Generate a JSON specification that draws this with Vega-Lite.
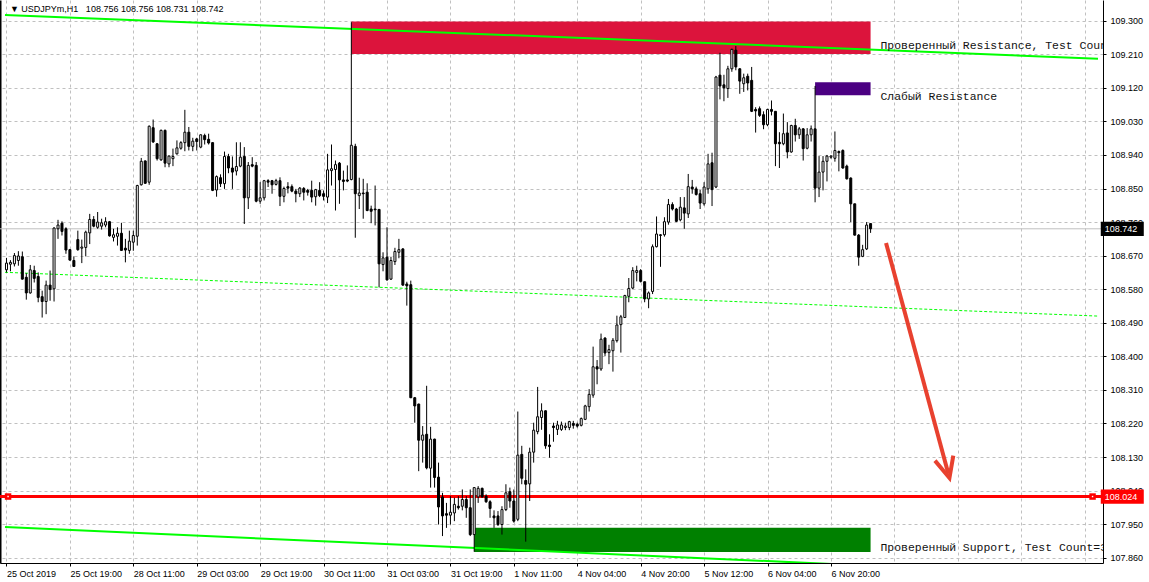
{
"$schema": "https://vega.github.io/schema/vega-lite/v6.json",
"width": 1103, "height": 563,
"autosize": {"type": "none"},
"padding": {"left": 0, "top": 0, "right": 46, "bottom": 19},
"background": "white",
"config": {"view": {"stroke": null}, "axis": {"labelFont": "Liberation Sans", "labelFontSize": 9, "labelColor": "black"}},
"datasets": {
"candles": [
{"i":0,"o":108.632,"h":108.664,"l":108.625,"c":108.650},
{"i":1,"o":108.647,"h":108.658,"l":108.628,"c":108.652},
{"i":2,"o":108.648,"h":108.677,"l":108.641,"c":108.670},
{"i":3,"o":108.657,"h":108.682,"l":108.643,"c":108.669},
{"i":4,"o":108.667,"h":108.681,"l":108.606,"c":108.607},
{"i":5,"o":108.612,"h":108.623,"l":108.552,"c":108.570},
{"i":6,"o":108.570,"h":108.645,"l":108.568,"c":108.632},
{"i":7,"o":108.630,"h":108.643,"l":108.598,"c":108.609},
{"i":8,"o":108.614,"h":108.625,"l":108.545,"c":108.558},
{"i":9,"o":108.560,"h":108.576,"l":108.504,"c":108.547},
{"i":10,"o":108.547,"h":108.603,"l":108.513,"c":108.591},
{"i":11,"o":108.591,"h":108.630,"l":108.549,"c":108.579},
{"i":12,"o":108.581,"h":108.746,"l":108.547,"c":108.744},
{"i":13,"o":108.742,"h":108.766,"l":108.715,"c":108.752},
{"i":14,"o":108.757,"h":108.762,"l":108.724,"c":108.735},
{"i":15,"o":108.742,"h":108.746,"l":108.675,"c":108.685},
{"i":16,"o":108.686,"h":108.688,"l":108.657,"c":108.658},
{"i":17,"o":108.657,"h":108.668,"l":108.641,"c":108.641},
{"i":18,"o":108.713,"h":108.737,"l":108.683,"c":108.686},
{"i":19,"o":108.690,"h":108.713,"l":108.650,"c":108.693},
{"i":20,"o":108.692,"h":108.737,"l":108.668,"c":108.733},
{"i":21,"o":108.731,"h":108.782,"l":108.701,"c":108.767},
{"i":22,"o":108.767,"h":108.776,"l":108.746,"c":108.749},
{"i":23,"o":108.746,"h":108.787,"l":108.742,"c":108.760},
{"i":24,"o":108.749,"h":108.769,"l":108.740,"c":108.758},
{"i":25,"o":108.752,"h":108.773,"l":108.746,"c":108.761},
{"i":26,"o":108.761,"h":108.763,"l":108.721,"c":108.723},
{"i":27,"o":108.719,"h":108.742,"l":108.708,"c":108.726},
{"i":28,"o":108.722,"h":108.746,"l":108.697,"c":108.730},
{"i":29,"o":108.730,"h":108.758,"l":108.683,"c":108.684},
{"i":30,"o":108.690,"h":108.715,"l":108.652,"c":108.685},
{"i":31,"o":108.684,"h":108.737,"l":108.675,"c":108.709},
{"i":32,"o":108.706,"h":108.737,"l":108.683,"c":108.724},
{"i":33,"o":108.722,"h":108.860,"l":108.697,"c":108.858},
{"i":34,"o":108.860,"h":108.932,"l":108.858,"c":108.923},
{"i":35,"o":108.924,"h":108.925,"l":108.863,"c":108.864},
{"i":36,"o":108.867,"h":109.019,"l":108.860,"c":109.017},
{"i":37,"o":109.013,"h":109.035,"l":108.972,"c":108.975},
{"i":38,"o":108.970,"h":108.972,"l":108.925,"c":108.930},
{"i":39,"o":108.927,"h":109.008,"l":108.924,"c":109.006},
{"i":40,"o":109.006,"h":109.008,"l":108.907,"c":108.918},
{"i":41,"o":108.916,"h":108.939,"l":108.907,"c":108.937},
{"i":42,"o":108.930,"h":108.957,"l":108.910,"c":108.936},
{"i":43,"o":108.943,"h":108.979,"l":108.941,"c":108.959},
{"i":44,"o":108.958,"h":108.977,"l":108.954,"c":108.973},
{"i":45,"o":108.973,"h":109.061,"l":108.950,"c":109.001},
{"i":46,"o":109.001,"h":109.015,"l":108.952,"c":108.963},
{"i":47,"o":108.963,"h":108.986,"l":108.950,"c":108.977},
{"i":48,"o":108.983,"h":108.986,"l":108.952,"c":108.976},
{"i":49,"o":108.961,"h":108.995,"l":108.958,"c":108.994},
{"i":50,"o":108.992,"h":108.997,"l":108.968,"c":108.981},
{"i":51,"o":108.982,"h":108.997,"l":108.968,"c":108.972},
{"i":52,"o":108.973,"h":108.974,"l":108.843,"c":108.845},
{"i":53,"o":108.846,"h":108.885,"l":108.828,"c":108.882},
{"i":54,"o":108.879,"h":108.888,"l":108.854,"c":108.863},
{"i":55,"o":108.863,"h":108.949,"l":108.849,"c":108.936},
{"i":56,"o":108.936,"h":108.943,"l":108.891,"c":108.905},
{"i":57,"o":108.905,"h":108.936,"l":108.849,"c":108.894},
{"i":58,"o":108.897,"h":108.974,"l":108.885,"c":108.909},
{"i":59,"o":108.910,"h":108.974,"l":108.907,"c":108.934},
{"i":60,"o":108.936,"h":108.961,"l":108.755,"c":108.825},
{"i":61,"o":108.825,"h":108.921,"l":108.795,"c":108.912},
{"i":62,"o":108.914,"h":108.934,"l":108.907,"c":108.910},
{"i":63,"o":108.912,"h":108.921,"l":108.813,"c":108.816},
{"i":64,"o":108.816,"h":108.867,"l":108.809,"c":108.825},
{"i":65,"o":108.825,"h":108.873,"l":108.818,"c":108.871},
{"i":66,"o":108.871,"h":108.875,"l":108.854,"c":108.867},
{"i":67,"o":108.871,"h":108.873,"l":108.836,"c":108.860},
{"i":68,"o":108.861,"h":108.876,"l":108.858,"c":108.871},
{"i":69,"o":108.871,"h":108.880,"l":108.803,"c":108.829},
{"i":70,"o":108.829,"h":108.855,"l":108.813,"c":108.850},
{"i":71,"o":108.855,"h":108.867,"l":108.837,"c":108.851},
{"i":72,"o":108.855,"h":108.861,"l":108.840,"c":108.843},
{"i":73,"o":108.843,"h":108.849,"l":108.813,"c":108.836},
{"i":74,"o":108.836,"h":108.854,"l":108.827,"c":108.851},
{"i":75,"o":108.850,"h":108.854,"l":108.818,"c":108.840},
{"i":76,"o":108.845,"h":108.849,"l":108.831,"c":108.840},
{"i":77,"o":108.845,"h":108.871,"l":108.813,"c":108.827},
{"i":78,"o":108.828,"h":108.849,"l":108.804,"c":108.847},
{"i":79,"o":108.845,"h":108.867,"l":108.827,"c":108.831},
{"i":80,"o":108.836,"h":108.845,"l":108.818,"c":108.829},
{"i":81,"o":108.827,"h":108.943,"l":108.811,"c":108.900},
{"i":82,"o":108.898,"h":108.968,"l":108.858,"c":108.903},
{"i":83,"o":108.901,"h":108.925,"l":108.791,"c":108.914},
{"i":84,"o":108.918,"h":108.921,"l":108.809,"c":108.873},
{"i":85,"o":108.873,"h":108.898,"l":108.845,"c":108.869},
{"i":86,"o":108.873,"h":108.912,"l":108.867,"c":108.870},
{"i":87,"o":108.874,"h":109.296,"l":108.872,"c":108.966},
{"i":88,"o":108.963,"h":108.970,"l":108.718,"c":108.836},
{"i":89,"o":108.831,"h":108.879,"l":108.795,"c":108.838},
{"i":90,"o":108.838,"h":108.876,"l":108.769,"c":108.836},
{"i":91,"o":108.840,"h":108.864,"l":108.789,"c":108.791},
{"i":92,"o":108.795,"h":108.804,"l":108.757,"c":108.789},
{"i":93,"o":108.795,"h":108.858,"l":108.751,"c":108.793},
{"i":94,"o":108.794,"h":108.795,"l":108.585,"c":108.648},
{"i":95,"o":108.646,"h":108.679,"l":108.628,"c":108.664},
{"i":96,"o":108.666,"h":108.746,"l":108.603,"c":108.605},
{"i":97,"o":108.607,"h":108.667,"l":108.605,"c":108.657},
{"i":98,"o":108.654,"h":108.691,"l":108.645,"c":108.681},
{"i":99,"o":108.679,"h":108.715,"l":108.663,"c":108.686},
{"i":100,"o":108.688,"h":108.690,"l":108.589,"c":108.591},
{"i":101,"o":108.594,"h":108.600,"l":108.536,"c":108.589},
{"i":102,"o":108.592,"h":108.603,"l":108.288,"c":108.289},
{"i":103,"o":108.289,"h":108.291,"l":108.222,"c":108.267},
{"i":104,"o":108.272,"h":108.273,"l":108.092,"c":108.175},
{"i":105,"o":108.175,"h":108.213,"l":108.115,"c":108.189},
{"i":106,"o":108.191,"h":108.321,"l":108.097,"c":108.101},
{"i":107,"o":108.100,"h":108.211,"l":108.048,"c":108.178},
{"i":108,"o":108.178,"h":108.179,"l":108.048,"c":108.075},
{"i":109,"o":108.076,"h":108.115,"l":107.949,"c":107.996},
{"i":110,"o":108.023,"h":108.034,"l":107.918,"c":107.972},
{"i":111,"o":107.978,"h":108.007,"l":107.940,"c":107.974},
{"i":112,"o":107.974,"h":108.025,"l":107.949,"c":107.982},
{"i":113,"o":107.980,"h":108.021,"l":107.958,"c":108.003},
{"i":114,"o":107.998,"h":108.025,"l":107.989,"c":107.994},
{"i":115,"o":107.998,"h":108.043,"l":107.987,"c":108.016},
{"i":116,"o":108.016,"h":108.025,"l":107.967,"c":107.994},
{"i":117,"o":107.994,"h":108.043,"l":107.918,"c":107.922},
{"i":118,"o":107.922,"h":108.049,"l":107.876,"c":108.048},
{"i":119,"o":108.023,"h":108.052,"l":108.007,"c":108.046},
{"i":120,"o":108.046,"h":108.048,"l":108.021,"c":108.023},
{"i":121,"o":108.025,"h":108.030,"l":108.007,"c":108.010},
{"i":122,"o":108.010,"h":108.014,"l":107.967,"c":107.992},
{"i":123,"o":107.972,"h":107.987,"l":107.940,"c":107.967},
{"i":124,"o":107.972,"h":107.985,"l":107.945,"c":107.949},
{"i":125,"o":107.949,"h":107.998,"l":107.922,"c":107.989},
{"i":126,"o":107.989,"h":108.057,"l":107.985,"c":108.034},
{"i":127,"o":108.037,"h":108.048,"l":107.994,"c":108.012},
{"i":128,"o":108.012,"h":108.043,"l":107.954,"c":107.958},
{"i":129,"o":107.963,"h":108.252,"l":107.958,"c":108.135},
{"i":130,"o":108.137,"h":108.160,"l":108.057,"c":108.073},
{"i":131,"o":108.067,"h":108.097,"l":107.903,"c":108.057},
{"i":132,"o":108.058,"h":108.155,"l":108.012,"c":108.143},
{"i":133,"o":108.143,"h":108.222,"l":108.115,"c":108.202},
{"i":134,"o":108.198,"h":108.318,"l":108.191,"c":108.238},
{"i":135,"o":108.236,"h":108.274,"l":108.203,"c":108.254},
{"i":136,"o":108.254,"h":108.255,"l":108.152,"c":108.160},
{"i":137,"o":108.162,"h":108.191,"l":108.128,"c":108.158},
{"i":138,"o":108.213,"h":108.222,"l":108.171,"c":108.209},
{"i":139,"o":108.204,"h":108.227,"l":108.189,"c":108.216},
{"i":140,"o":108.204,"h":108.225,"l":108.200,"c":108.216},
{"i":141,"o":108.209,"h":108.222,"l":108.202,"c":108.213},
{"i":142,"o":108.209,"h":108.227,"l":108.202,"c":108.225},
{"i":143,"o":108.220,"h":108.227,"l":108.206,"c":108.215},
{"i":144,"o":108.218,"h":108.222,"l":108.209,"c":108.213},
{"i":145,"o":108.215,"h":108.236,"l":108.212,"c":108.233},
{"i":146,"o":108.231,"h":108.270,"l":108.229,"c":108.267},
{"i":147,"o":108.265,"h":108.312,"l":108.252,"c":108.298},
{"i":148,"o":108.296,"h":108.426,"l":108.289,"c":108.372},
{"i":149,"o":108.372,"h":108.390,"l":108.325,"c":108.366},
{"i":150,"o":108.366,"h":108.461,"l":108.361,"c":108.446},
{"i":151,"o":108.449,"h":108.451,"l":108.401,"c":108.409},
{"i":152,"o":108.410,"h":108.431,"l":108.379,"c":108.418},
{"i":153,"o":108.415,"h":108.449,"l":108.359,"c":108.443},
{"i":154,"o":108.442,"h":108.509,"l":108.437,"c":108.484},
{"i":155,"o":108.485,"h":108.511,"l":108.410,"c":108.506},
{"i":156,"o":108.504,"h":108.565,"l":108.503,"c":108.563},
{"i":157,"o":108.561,"h":108.610,"l":108.545,"c":108.582},
{"i":158,"o":108.583,"h":108.639,"l":108.580,"c":108.630},
{"i":159,"o":108.625,"h":108.643,"l":108.601,"c":108.630},
{"i":160,"o":108.630,"h":108.634,"l":108.598,"c":108.601},
{"i":161,"o":108.600,"h":108.600,"l":108.545,"c":108.554},
{"i":162,"o":108.554,"h":108.574,"l":108.529,"c":108.570},
{"i":163,"o":108.574,"h":108.700,"l":108.567,"c":108.694},
{"i":164,"o":108.694,"h":108.775,"l":108.692,"c":108.728},
{"i":165,"o":108.724,"h":108.728,"l":108.640,"c":108.726},
{"i":166,"o":108.726,"h":108.773,"l":108.721,"c":108.761},
{"i":167,"o":108.760,"h":108.822,"l":108.753,"c":108.807},
{"i":168,"o":108.807,"h":108.813,"l":108.791,"c":108.795},
{"i":169,"o":108.795,"h":108.798,"l":108.760,"c":108.762},
{"i":170,"o":108.766,"h":108.827,"l":108.762,"c":108.800},
{"i":171,"o":108.798,"h":108.827,"l":108.742,"c":108.784},
{"i":172,"o":108.782,"h":108.889,"l":108.771,"c":108.855},
{"i":173,"o":108.854,"h":108.873,"l":108.836,"c":108.849},
{"i":174,"o":108.849,"h":108.855,"l":108.831,"c":108.834},
{"i":175,"o":108.836,"h":108.846,"l":108.795,"c":108.811},
{"i":176,"o":108.809,"h":108.867,"l":108.804,"c":108.854},
{"i":177,"o":108.849,"h":108.943,"l":108.836,"c":108.916},
{"i":178,"o":108.919,"h":108.946,"l":108.803,"c":108.847},
{"i":179,"o":108.854,"h":109.152,"l":108.851,"c":109.149},
{"i":180,"o":109.154,"h":109.214,"l":109.089,"c":109.125},
{"i":181,"o":109.128,"h":109.155,"l":109.084,"c":109.120},
{"i":182,"o":109.118,"h":109.179,"l":109.093,"c":109.171},
{"i":183,"o":109.171,"h":109.225,"l":109.163,"c":109.223},
{"i":184,"o":109.221,"h":109.232,"l":109.167,"c":109.176},
{"i":185,"o":109.171,"h":109.173,"l":109.104,"c":109.138},
{"i":186,"o":109.131,"h":109.158,"l":109.109,"c":109.147},
{"i":187,"o":109.151,"h":109.158,"l":109.113,"c":109.133},
{"i":188,"o":109.140,"h":109.176,"l":109.055,"c":109.057},
{"i":189,"o":109.062,"h":109.068,"l":109.000,"c":109.058},
{"i":190,"o":109.064,"h":109.070,"l":109.042,"c":109.046},
{"i":191,"o":109.048,"h":109.057,"l":109.009,"c":109.021},
{"i":192,"o":109.021,"h":109.064,"l":109.017,"c":109.062},
{"i":193,"o":109.062,"h":109.086,"l":109.046,"c":109.057},
{"i":194,"o":109.057,"h":109.057,"l":108.910,"c":108.970},
{"i":195,"o":108.974,"h":109.001,"l":108.905,"c":108.970},
{"i":196,"o":108.970,"h":109.051,"l":108.966,"c":108.997},
{"i":197,"o":108.999,"h":109.028,"l":108.931,"c":108.948},
{"i":198,"o":108.948,"h":109.021,"l":108.946,"c":109.019},
{"i":199,"o":109.019,"h":109.037,"l":108.976,"c":108.994},
{"i":200,"o":108.994,"h":109.015,"l":108.983,"c":109.010},
{"i":201,"o":109.010,"h":109.012,"l":108.925,"c":108.957},
{"i":202,"o":108.958,"h":109.012,"l":108.955,"c":108.994},
{"i":203,"o":108.994,"h":109.019,"l":108.976,"c":109.010},
{"i":204,"o":109.010,"h":109.125,"l":108.813,"c":108.851},
{"i":205,"o":108.851,"h":108.937,"l":108.827,"c":108.894},
{"i":206,"o":108.894,"h":108.937,"l":108.845,"c":108.923},
{"i":207,"o":108.923,"h":108.940,"l":108.869,"c":108.937},
{"i":208,"o":108.934,"h":108.939,"l":108.930,"c":108.937},
{"i":209,"o":108.931,"h":109.003,"l":108.922,"c":108.952},
{"i":210,"o":108.949,"h":108.952,"l":108.896,"c":108.946},
{"i":211,"o":108.952,"h":108.955,"l":108.903,"c":108.905},
{"i":212,"o":108.910,"h":108.914,"l":108.874,"c":108.876},
{"i":213,"o":108.878,"h":108.880,"l":108.760,"c":108.809},
{"i":214,"o":108.809,"h":108.809,"l":108.724,"c":108.725},
{"i":215,"o":108.725,"h":108.728,"l":108.643,"c":108.666},
{"i":216,"o":108.668,"h":108.699,"l":108.666,"c":108.686},
{"i":217,"o":108.688,"h":108.760,"l":108.685,"c":108.752},
{"i":218,"o":108.756,"h":108.756,"l":108.731,"c":108.742}
],
"zones": [
{"i0":87,"i1":218,"p0":109.211,"p1":109.298,"color":"#DC143C"},
{"i0":204,"i1":218,"p0":109.100,"p1":109.135,"color":"#4B0082"},
{"i0":118,"i1":218,"p0":107.875,"p1":107.940,"color":"#008000"}
],
"trend": [
{"line":"up","i":-0.375,"p":109.3153},{"line":"up","i":275.375,"p":109.1982},
{"line":"low","i":-0.375,"p":107.9423},{"line":"low","i":275.375,"p":107.8112}
],
"mid": [{"i":-0.375,"p":108.6253},{"i":275.375,"p":108.5079}],
"zonelabels": [
{"i":220.5,"p":109.2322,"t":"Проверенный Resistance, Test Count=2"},
{"i":220.5,"p":109.0954,"t":"Слабый Resistance"},
{"i":220.5,"p":107.886,"t":"Проверенный Support, Test Count=3"}
],
"header": [{"i":0.875,"p":109.3314,"t":"▼ USDJPYm,H1\u00a0\u00a0 108.756 108.756 108.731 108.742"}],
"arrow": [{"i":221.9,"p":108.704,"i2":237.6,"p2":108.086}],
"arrowtip": [{"i":237.9,"p":108.0737}],
"bid": [{"p":108.742,"t":"108.742"}],
"level": [{"p":108.024,"t":"108.024"}],
"handles": [{"i":0.4,"p":108.024},{"i":274.0,"p":108.024}]
},
"layer": [
{"data":{"name":"zones"},"mark":{"type":"rect"},
"encoding":{
"x":{"field":"i0","type":"quantitative","scale":{"domain":[-0.375,275.375],"nice":false,"zero":false},
"axis":{"values":[0,8,16,24,32,40,48,56,64,72,80,88,96,104,112,120,128,136,144,152,160,168,176,184,192,200,208,216,224,232,240,248,256,264,272],
"title":null,"grid":true,"gridColor":"#C0C0C0","gridDash":[3,3],"gridWidth":1,"domainColor":"black","domainWidth":1,
"tickColor":{"condition":{"test":"datum.value % 16 == 0 && datum.value <= 208","value":"black"},"value":"transparent"},
"tickSize":3,"labelAlign":"left","labelBaseline":"top","labelPadding":3,"labelOverlap":false,"labelBound":false,"labelFlush":false,
"labelExpr":"datum.value % 16 == 0 && datum.value <= 208 ? ['25 Oct 2019','25 Oct 19:00','28 Oct 11:00','29 Oct 03:00','29 Oct 19:00','30 Oct 11:00','31 Oct 03:00','31 Oct 19:00','1 Nov 11:00','4 Nov 04:00','4 Nov 20:00','5 Nov 12:00','6 Nov 04:00','6 Nov 20:00'][datum.value / 16] : ''"}},
"x2":{"field":"i1"},
"y":{"field":"p0","type":"quantitative","scale":{"domain":[107.8458,109.3555],"nice":false,"zero":false},
"axis":{"orient":"left","labels":false,"ticks":false,"grid":false,"domainColor":"black","domainWidth":2,"title":null}},
"y2":{"field":"p1"},
"fill":{"field":"color","type":"nominal","scale":null,"legend":null}
}},
{"data":{"name":"mid"},"mark":{"type":"line","stroke":"#00FF00","strokeWidth":1,"strokeDash":[3,2],"clip":true},
"encoding":{"x":{"field":"i","type":"quantitative"},"y":{"field":"p","type":"quantitative","axis":null}}},
{"data":{"name":"bid"},"mark":{"type":"rule","stroke":"#C0C0C0","strokeWidth":1},
"encoding":{"y":{"field":"p","type":"quantitative","axis":null}}},
{"data":{"name":"trend"},"mark":{"type":"line","stroke":"#00FF00","strokeWidth":2,"clip":true},
"encoding":{"x":{"field":"i","type":"quantitative"},"y":{"field":"p","type":"quantitative","axis":null},"detail":{"field":"line"}}},
{"data":{"name":"level"},"mark":{"type":"rule","stroke":"#FF0000","strokeWidth":3},
"encoding":{"y":{"field":"p","type":"quantitative","axis":null}}},
{"data":{"name":"handles"},"mark":{"type":"point","shape":"square","size":42,"filled":true,"fill":"#FF0000","strokeWidth":0,"opacity":1},
"encoding":{"x":{"field":"i","type":"quantitative"},"y":{"field":"p","type":"quantitative","axis":null}}},
{"data":{"name":"handles"},"mark":{"type":"point","shape":"square","size":2,"filled":true,"fill":"white","strokeWidth":0,"opacity":1},
"encoding":{"x":{"field":"i","type":"quantitative"},"y":{"field":"p","type":"quantitative","axis":null}}},
{"data":{"name":"candles"},"mark":{"type":"rule","stroke":"black","strokeWidth":1},
"encoding":{"x":{"field":"i","type":"quantitative"},
"y":{"field":"l","type":"quantitative",
"axis":{"orient":"right","values":[107.86,107.95,108.04,108.13,108.22,108.31,108.40,108.49,108.58,108.67,108.76,108.85,108.94,109.03,109.12,109.21,109.30],
"format":".3f","title":null,"grid":true,"gridColor":"#C0C0C0","gridDash":[3,3],"gridWidth":1,"domainColor":"black","domainWidth":1,"tickColor":"black","tickSize":3,"labelPadding":4,"labelBaseline":"middle","labelOverlap":false,"labelBound":false,"labelFlush":false}},
"y2":{"field":"h"}}},
{"data":{"name":"candles"},"mark":{"type":"bar","size":2,"stroke":"black","strokeWidth":1},
"encoding":{"x":{"field":"i","type":"quantitative"},
"y":{"field":"o","type":"quantitative","axis":null},"y2":{"field":"c"},
"fill":{"condition":{"test":"datum.c > datum.o","value":"white"},"value":"black"}}},
{"data":{"name":"zonelabels"},"mark":{"type":"text","font":"Liberation Mono","fontSize":11.45,"align":"left","baseline":"middle","fill":"#111111","clip":true},
"encoding":{"x":{"field":"i","type":"quantitative"},"y":{"field":"p","type":"quantitative","axis":null},"text":{"field":"t"}}},
{"data":{"name":"header"},"mark":{"type":"text","font":"Liberation Sans","fontSize":9,"align":"left","baseline":"middle","fill":"black"},
"encoding":{"x":{"field":"i","type":"quantitative"},"y":{"field":"p","type":"quantitative","axis":null},"text":{"field":"t"}}},
{"data":{"name":"arrow"},"mark":{"type":"rule","stroke":"#E8412F","strokeWidth":4},
"encoding":{"x":{"field":"i","type":"quantitative"},"y":{"field":"p","type":"quantitative","axis":null},"x2":{"field":"i2"},"y2":{"field":"p2"}}},
{"data":{"name":"arrowtip"},"mark":{"type":"point","shape":"M -0.6 -1.3 L 0 0 L 0.6 -1.3","size":1000,"filled":false,"stroke":"#E8412F","strokeWidth":4,"angle":-15,"opacity":1},
"encoding":{"x":{"field":"i","type":"quantitative"},"y":{"field":"p","type":"quantitative","axis":null}}},
{"data":{"name":"bid"},"mark":{"type":"point","shape":"M -1 -0.33 L 1 -0.33 L 1 0.33 L -1 0.33 Z","size":1849,"filled":true,"fill":"black","strokeWidth":0,"opacity":1},
"encoding":{"x":{"datum":281.5},"y":{"field":"p","type":"quantitative","axis":null}}},
{"data":{"name":"bid"},"mark":{"type":"text","font":"Liberation Sans","fontSize":9,"align":"left","baseline":"middle","fill":"white"},
"encoding":{"x":{"datum":277.1},"y":{"field":"p","type":"quantitative","axis":null},"text":{"field":"t"}}},
{"data":{"name":"level"},"mark":{"type":"point","shape":"M -1 -0.33 L 1 -0.33 L 1 0.33 L -1 0.33 Z","size":1849,"filled":true,"fill":"#FF0000","strokeWidth":0,"opacity":1},
"encoding":{"x":{"datum":281.5},"y":{"field":"p","type":"quantitative","axis":null}}},
{"data":{"name":"level"},"mark":{"type":"text","font":"Liberation Sans","fontSize":9,"align":"left","baseline":"middle","fill":"white"},
"encoding":{"x":{"datum":277.1},"y":{"field":"p","type":"quantitative","axis":null},"text":{"field":"t"}}}
],
"resolve": {"axis": {"y": "independent"}}
}
